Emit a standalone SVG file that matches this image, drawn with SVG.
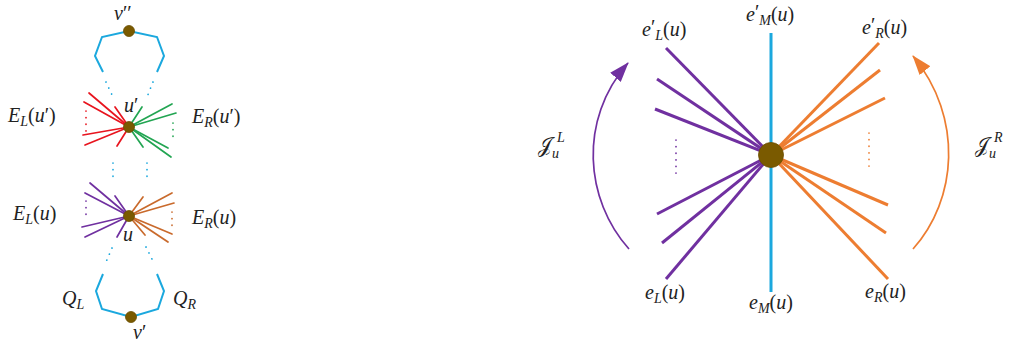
<svg xmlns="http://www.w3.org/2000/svg" width="1011" height="345" viewBox="0 0 1011 345">
<style>
.t{font-family:"Liberation Serif","Times New Roman","DejaVu Serif",serif;font-size:20px;fill:#222}
.i{font-style:italic}
.sb{font-size:14px;font-style:italic}
.blue{stroke:#1ba8de;fill:none}
.red{stroke:#e8141e}
.green{stroke:#22a552}
.purple{stroke:#7030a0}
.orangeL{stroke:#c96a2c}
.orange{stroke:#ed7d31}
.e1{stroke-width:1.7;stroke-linecap:round;fill:none}
.e2{stroke-width:3;stroke-linecap:butt;fill:none}
.dots{stroke-width:1.7;stroke-linecap:round;stroke-dasharray:0.1 6.5;fill:none}
.node{fill:#7a5a00;stroke:#6a4e00;stroke-width:0.8}
</style>
<defs>
<marker id="ap" viewBox="0 0 20 14" refX="19" refY="7" markerWidth="20" markerHeight="14" markerUnits="userSpaceOnUse" orient="auto"><path d="M0,0 L20,7 L0,14 z" fill="#7030a0"/></marker>
<marker id="ao" viewBox="0 0 20 14" refX="19" refY="7" markerWidth="20" markerHeight="14" markerUnits="userSpaceOnUse" orient="auto"><path d="M0,0 L20,7 L0,14 z" fill="#ed7d31"/></marker>
</defs>

<g id="connectors">
  <polyline class="blue" stroke-width="2" points="103,72 95,56 102,37 129,31 157,37 164,56 157,72"/>
  <polyline class="blue" stroke-width="2" points="103,274 96,291 102,309 131,317 158,309 164,291 157,274"/>
  <line class="blue dots" x1="106" y1="82" x2="113" y2="97"/>
  <line class="blue dots" x1="153" y1="82" x2="147" y2="97"/>
  <line class="blue dots" x1="113" y1="163" x2="113" y2="180"/>
  <line class="blue dots" x1="147" y1="163" x2="147" y2="180"/>
  <line class="blue dots" x1="112" y1="248" x2="106" y2="262"/>
  <line class="blue dots" x1="146" y1="247" x2="153" y2="261"/>

  <g class="red e1">
    <line x1="129" y1="127" x2="89" y2="93"/>
    <line x1="129" y1="127" x2="84" y2="102"/>
    <line x1="129" y1="127" x2="115" y2="107"/>
    <line x1="129" y1="127" x2="83" y2="135"/>
    <line x1="129" y1="127" x2="85" y2="145"/>
    <line x1="129" y1="127" x2="117" y2="146"/>
  </g>
  <line class="red dots" x1="86" y1="111" x2="86" y2="134"/>
  <g class="green e1">
    <line x1="129" y1="127" x2="142" y2="107"/>
    <line x1="129" y1="127" x2="172" y2="104"/>
    <line x1="129" y1="127" x2="176" y2="113"/>
    <line x1="129" y1="127" x2="143" y2="147"/>
    <line x1="129" y1="127" x2="168" y2="148"/>
    <line x1="129" y1="127" x2="171" y2="157"/>
  </g>
  <line class="green dots" x1="173" y1="123" x2="173" y2="140"/>

  <g class="purple e1">
    <line x1="129" y1="216" x2="90" y2="183"/>
    <line x1="129" y1="216" x2="85" y2="193"/>
    <line x1="129" y1="216" x2="115" y2="196"/>
    <line x1="129" y1="216" x2="82" y2="227"/>
    <line x1="129" y1="216" x2="85" y2="237"/>
    <line x1="129" y1="216" x2="117" y2="237"/>
  </g>
  <line class="purple dots" x1="86" y1="201" x2="86" y2="218"/>
  <g class="orangeL e1">
    <line x1="129" y1="216" x2="143" y2="197"/>
    <line x1="129" y1="216" x2="172" y2="193"/>
    <line x1="129" y1="216" x2="174" y2="203"/>
    <line x1="129" y1="216" x2="145" y2="235"/>
    <line x1="129" y1="216" x2="172" y2="234"/>
    <line x1="129" y1="216" x2="168" y2="242"/>
  </g>
  <line class="orangeL dots" x1="172" y1="212" x2="172" y2="231"/>

  <line class="blue" stroke-width="3" x1="771" y1="33" x2="771" y2="292"/>
  <g class="purple e2">
    <line x1="771" y1="155" x2="666" y2="48"/>
    <line x1="771" y1="155" x2="657" y2="79"/>
    <line x1="771" y1="155" x2="655" y2="109"/>
    <line x1="771" y1="155" x2="657" y2="214"/>
    <line x1="771" y1="155" x2="662" y2="243"/>
    <line x1="771" y1="155" x2="666" y2="279"/>
  </g>
  <line class="purple dots" stroke-width="1.4" stroke-dasharray="0.1 5" x1="676" y1="140" x2="676" y2="178"/>
  <g class="orange e2">
    <line x1="771" y1="155" x2="879" y2="43"/>
    <line x1="771" y1="155" x2="880" y2="70"/>
    <line x1="771" y1="155" x2="885" y2="98"/>
    <line x1="771" y1="155" x2="888" y2="205"/>
    <line x1="771" y1="155" x2="886" y2="233"/>
    <line x1="771" y1="155" x2="888" y2="279"/>
  </g>
  <line class="orange dots" stroke-width="1.4" stroke-dasharray="0.1 5" x1="869" y1="133" x2="869" y2="171"/>
  <path class="purple" stroke-width="1.7" fill="none" d="M629,249 C585,200 578,120 628,63" marker-end="url(#ap)"/>
  <path class="orange" stroke-width="1.7" fill="none" d="M913,249 C957,200 964,118 913,56" marker-end="url(#ao)"/>
</g>

<g id="node-vpp"><circle class="node" cx="129" cy="31" r="5.5"/>
  <text class="t" x="114" y="20"><tspan class="i">v</tspan><tspan>′′</tspan></text></g>
<g id="node-up"><circle class="node" cx="129" cy="127" r="5.5"/>
  <text class="t" x="124" y="112"><tspan class="i">u</tspan><tspan>′</tspan></text></g>
<g id="node-u"><circle class="node" cx="129" cy="216" r="5.5"/>
  <text class="t" x="123" y="241"><tspan class="i">u</tspan></text></g>
<g id="node-vp"><circle class="node" cx="131" cy="317" r="5.5"/>
  <text class="t" x="133" y="339"><tspan class="i">v</tspan><tspan>′</tspan></text></g>
<g id="node-center"><circle class="node" cx="771" cy="155" r="12.5"/></g>

<g id="labels">
  <text class="t" x="8" y="122"><tspan class="i">E</tspan><tspan class="sb" dy="4">L</tspan><tspan dy="-4">(</tspan><tspan class="i">u</tspan><tspan>′)</tspan></text>
  <text class="t" x="192" y="123"><tspan class="i">E</tspan><tspan class="sb" dy="4">R</tspan><tspan dy="-4">(</tspan><tspan class="i">u</tspan><tspan>′)</tspan></text>
  <text class="t" x="13" y="220"><tspan class="i">E</tspan><tspan class="sb" dy="4">L</tspan><tspan dy="-4">(</tspan><tspan class="i">u</tspan><tspan>)</tspan></text>
  <text class="t" x="192" y="224"><tspan class="i">E</tspan><tspan class="sb" dy="4">R</tspan><tspan dy="-4">(</tspan><tspan class="i">u</tspan><tspan>)</tspan></text>
  <text class="t" x="62" y="305"><tspan class="i">Q</tspan><tspan class="sb" dy="4">L</tspan></text>
  <text class="t" x="173" y="305"><tspan class="i">Q</tspan><tspan class="sb" dy="4">R</tspan></text>

  <text class="t" x="642" y="36"><tspan class="i">e</tspan><tspan dy="-2">′</tspan><tspan class="sb" dy="6">L</tspan><tspan dy="-4">(</tspan><tspan class="i">u</tspan><tspan>)</tspan></text>
  <text class="t" x="746" y="21"><tspan class="i">e</tspan><tspan dy="-2">′</tspan><tspan class="sb" dy="6">M</tspan><tspan dy="-4">(</tspan><tspan class="i">u</tspan><tspan>)</tspan></text>
  <text class="t" x="862" y="34"><tspan class="i">e</tspan><tspan dy="-2">′</tspan><tspan class="sb" dy="6">R</tspan><tspan dy="-4">(</tspan><tspan class="i">u</tspan><tspan>)</tspan></text>
  <text class="t" x="645" y="299"><tspan class="i">e</tspan><tspan class="sb" dy="4">L</tspan><tspan dy="-4">(</tspan><tspan class="i">u</tspan><tspan>)</tspan></text>
  <text class="t" x="749" y="309"><tspan class="i">e</tspan><tspan class="sb" dy="4">M</tspan><tspan dy="-4">(</tspan><tspan class="i">u</tspan><tspan>)</tspan></text>
  <text class="t" x="865" y="298"><tspan class="i">e</tspan><tspan class="sb" dy="4">R</tspan><tspan dy="-4">(</tspan><tspan class="i">u</tspan><tspan>)</tspan></text>

  <text class="t" x="538" y="152" font-size="24"><tspan>𝒥</tspan><tspan class="sb" dy="6">u</tspan></text>
  <text class="t" x="557" y="142"><tspan class="sb">L</tspan></text>
  <text class="t" x="975" y="152" font-size="24"><tspan>𝒥</tspan><tspan class="sb" dy="6">u</tspan></text>
  <text class="t" x="994" y="142"><tspan class="sb">R</tspan></text>
</g>
</svg>
